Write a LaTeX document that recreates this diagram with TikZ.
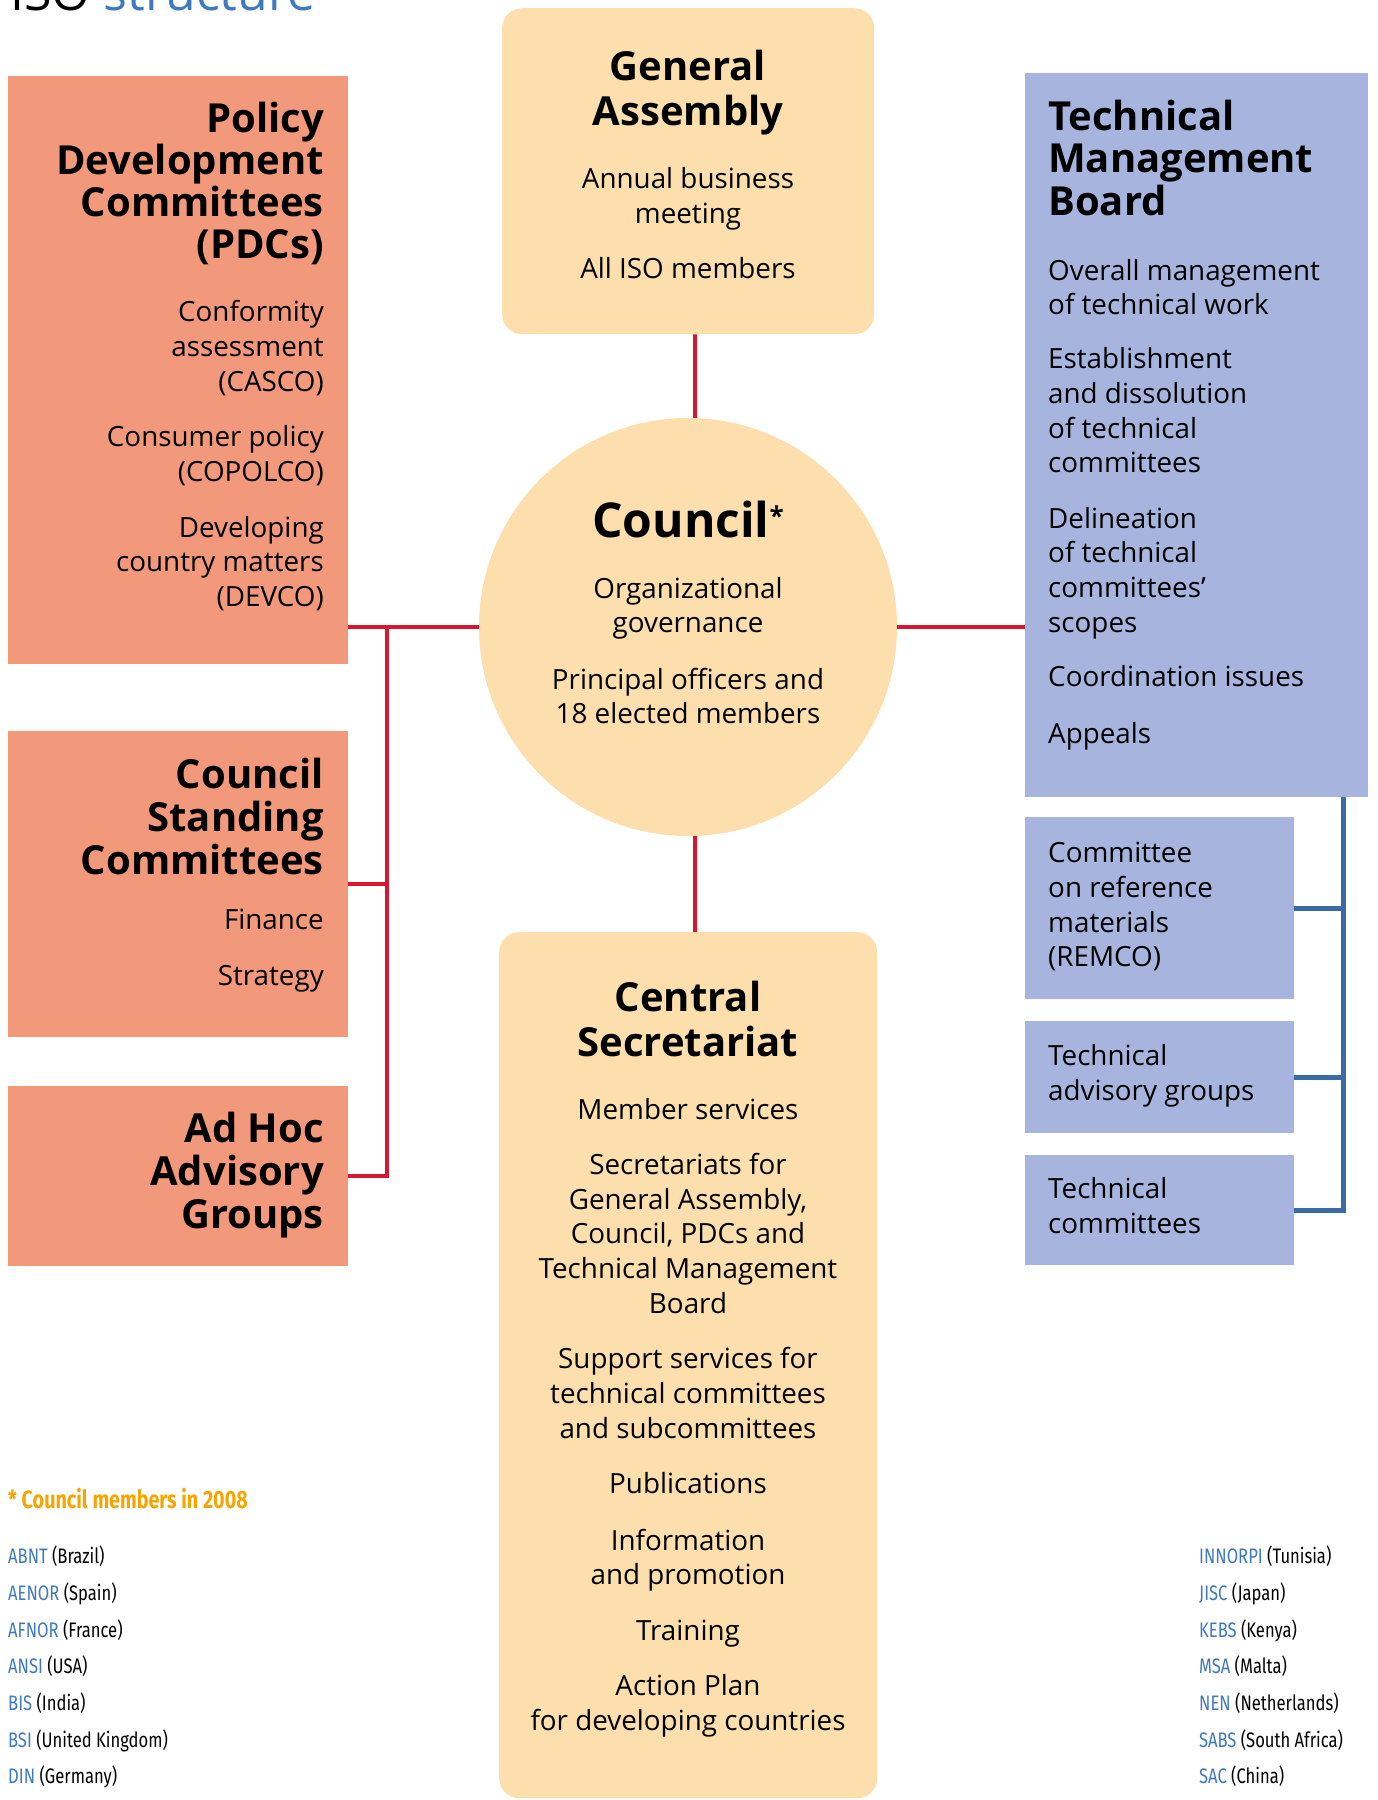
\documentclass[tikz,border=0pt]{standalone}
\usepackage{fontspec}
\setmainfont{Open Sans}
\newfontfamily\condfont[FakeStretch=0.79]{Fira Sans}
\usepackage{tikz}
\usetikzlibrary{calc}

\definecolor{salmon}{HTML}{F2987B}
\definecolor{peach}{HTML}{FDDEAD}
\definecolor{lavender}{HTML}{A7B5DE}
\definecolor{isored}{HTML}{D7172F}
\definecolor{isoblue}{HTML}{3A6BA6}
\definecolor{namecol}{HTML}{3E79C2}
\definecolor{notecol}{HTML}{F6A400}

\begin{document}
\begin{tikzpicture}[
    x=1pt, y=-1pt,
    salmonbox/.style={fill=salmon, anchor=north west, inner sep=0pt, minimum width=340pt},
    peachbox/.style={fill=peach, anchor=north west, inner sep=0pt, rounded corners=20pt},
    bluebox/.style={fill=lavender, anchor=north west, inner sep=0pt},
    ttl/.style={font=\fontsize{40}{44}\selectfont\bfseries, inner sep=0pt},
    txt/.style={font=\fontsize{27.8}{35}\selectfont, inner sep=0pt},
    lst/.style={font=\condfont\fontsize{21}{21}\selectfont, inner sep=0pt, anchor=base west},
    redline/.style={draw=isored, line width=4pt},
    blueline/.style={draw=isoblue, line width=5pt}
]
\useasboundingbox (0,0) rectangle (1378,1800);
\clip (0,0) rectangle (1378,1800);

% heading, cut at the top
\node[anchor=base west, inner sep=0pt, font=\fontsize{50}{50}\selectfont] (heading) at (10,10) {ISO \textcolor{namecol}{structure}};

% boxes
\node[salmonbox, minimum height=588pt] (pdc) at (8,76) {};
\node[salmonbox, minimum height=306pt] (csc) at (8,731) {};
\node[salmonbox, minimum height=180pt] (adhoc) at (8,1086) {};
\node[peachbox, minimum width=372pt, minimum height=326pt] (ga) at (502,8) {};
\node[peachbox, minimum width=378pt, minimum height=866pt] (cs) at (499,932) {};
\node[circle, fill=peach, inner sep=0pt, minimum size=418pt] (council) at (688,627) {};
\node[bluebox, minimum width=343pt, minimum height=724pt] (tmb) at (1025,73) {};
\node[bluebox, minimum width=269pt, minimum height=182pt] (remco) at (1025,817) {};
\node[bluebox, minimum width=269pt, minimum height=112pt] (tag) at (1025,1021) {};
\node[bluebox, minimum width=269pt, minimum height=110pt] (tc) at (1025,1155) {};

% connectors
\draw[redline] ([xshift=7pt]ga.south) -- ([xshift=7pt]council.north);
\draw[redline] ([xshift=7pt]council.south) -- ([xshift=7pt]cs.north);
\draw[redline] (pdc.east |- council.west) -- (council.west);
\draw[redline] (council.east) -- (council.east -| tmb.west);
\coordinate (lbus) at ($(pdc.east |- council.west)+(39,0)$);
\draw[redline] (csc.east) -- (csc.east -| lbus);
\draw[redline] (lbus) |- (adhoc.east);
\coordinate (rbus) at ([xshift=-25pt]tmb.south east);
\draw[blueline] (remco.east) -- (remco.east -| rbus);
\draw[blueline] (tag.east) -- (tag.east -| rbus);
\draw[blueline] (rbus) |- (tc.east);

% Policy Development Committees
\node[ttl, anchor=base east] (pdc1) at (324,132) {Policy};
\node[ttl, anchor=base east] (pdc2) at (324,174) {Development};
\node[ttl, anchor=base east] (pdc3) at (324,216) {Committees};
\node[ttl, anchor=base east] (pdc4) at (324,258) {(PDCs)};
\node[txt, anchor=base east] (pdc5) at (324,321) {Conformity};
\node[txt, anchor=base east] (pdc6) at (324,356) {assessment};
\node[txt, anchor=base east] (pdc7) at (324,391) {(CASCO)};
\node[txt, anchor=base east] (pdc8) at (324,446) {Consumer policy};
\node[txt, anchor=base east] (pdc9) at (324,481) {(COPOLCO)};
\node[txt, anchor=base east] (pdc10) at (324,537) {Developing};
\node[txt, anchor=base east] (pdc11) at (324,571) {country matters};
\node[txt, anchor=base east] (pdc12) at (324,606) {(DEVCO)};

% Council Standing Committees
\node[ttl, anchor=base east] (csc1) at (324,788) {Council};
\node[ttl, anchor=base east] (csc2) at (324,831) {Standing};
\node[ttl, anchor=base east] (csc3) at (324,874) {Committees};
\node[txt, anchor=base east] (csc4) at (324,929) {Finance};
\node[txt, anchor=base east] (csc5) at (324,985) {Strategy};

% Ad Hoc Advisory Groups
\node[ttl, anchor=base east] (ah1) at (324,1142) {Ad Hoc};
\node[ttl, anchor=base east] (ah2) at (324,1185) {Advisory};
\node[ttl, anchor=base east] (ah3) at (324,1228) {Groups};

% General Assembly
\node[ttl, anchor=base] (ga1) at (688,80) {General};
\node[ttl, anchor=base] (ga2) at (688,125) {Assembly};
\node[txt, anchor=base] (ga3) at (688,188) {Annual business};
\node[txt, anchor=base] (ga4) at (688,223) {meeting};
\node[txt, anchor=base] (ga5) at (688,278) {All ISO members};

% Council
\node[ttl, anchor=base, font=\fontsize{48}{48}\selectfont\bfseries] (co1) at (688,537) {Council\raisebox{12pt}{\fontsize{26}{26}\selectfont *}};
\node[txt, anchor=base] (co2) at (688,598) {Organizational};
\node[txt, anchor=base] (co3) at (688,632) {governance};
\node[txt, anchor=base] (co4) at (688,689) {Principal officers and};
\node[txt, anchor=base] (co5) at (688,723) {18 elected members};

% Central Secretariat
\node[ttl, anchor=base] (cs1) at (688,1011) {Central};
\node[ttl, anchor=base] (cs2) at (688,1056) {Secretariat};
\node[txt, anchor=base] (cs3) at (688,1119) {Member services};
\node[txt, anchor=base] (cs4) at (688,1174) {Secretariats for};
\node[txt, anchor=base] (cs5) at (688,1209) {General Assembly,};
\node[txt, anchor=base] (cs6) at (688,1243) {Council, PDCs and};
\node[txt, anchor=base] (cs7) at (688,1278) {Technical Management};
\node[txt, anchor=base] (cs8) at (688,1313) {Board};
\node[txt, anchor=base] (cs9) at (688,1368) {Support services for};
\node[txt, anchor=base] (cs10) at (688,1403) {technical committees};
\node[txt, anchor=base] (cs11) at (688,1438) {and subcommittees};
\node[txt, anchor=base] (cs12) at (688,1493) {Publications};
\node[txt, anchor=base] (cs13) at (688,1550) {Information};
\node[txt, anchor=base] (cs14) at (688,1584) {and promotion};
\node[txt, anchor=base] (cs15) at (688,1640) {Training};
\node[txt, anchor=base] (cs16) at (688,1695) {Action Plan};
\node[txt, anchor=base] (cs17) at (688,1730) {for developing countries};

% Technical Management Board
\node[ttl, anchor=base west] (tmb1) at (1048,130) {Technical};
\node[ttl, anchor=base west] (tmb2) at (1048,172) {Management};
\node[ttl, anchor=base west] (tmb3) at (1048,215) {Board};
\node[txt, anchor=base west] (tmb4) at (1048,280) {Overall management};
\node[txt, anchor=base west] (tmb5) at (1048,314) {of technical work};
\node[txt, anchor=base west] (tmb6) at (1048,368) {Establishment};
\node[txt, anchor=base west] (tmb7) at (1048,403) {and dissolution};
\node[txt, anchor=base west] (tmb8) at (1048,438) {of technical};
\node[txt, anchor=base west] (tmb9) at (1048,472) {committees};
\node[txt, anchor=base west] (tmb10) at (1048,528) {Delineation};
\node[txt, anchor=base west] (tmb11) at (1048,562) {of technical};
\node[txt, anchor=base west] (tmb12) at (1048,597) {committees'};
\node[txt, anchor=base west] (tmb13) at (1048,632) {scopes};
\node[txt, anchor=base west] (tmb14) at (1048,686) {Coordination issues};
\node[txt, anchor=base west] (tmb15) at (1048,743) {Appeals};

% TMB groups
\node[txt, anchor=base west] (rm1) at (1048,862) {Committee};
\node[txt, anchor=base west] (rm2) at (1048,897) {on reference};
\node[txt, anchor=base west] (rm3) at (1048,932) {materials};
\node[txt, anchor=base west] (rm4) at (1048,966) {(REMCO)};
\node[txt, anchor=base west] (tag1) at (1048,1065) {Technical};
\node[txt, anchor=base west] (tag2) at (1048,1100) {advisory groups};
\node[txt, anchor=base west] (tc1) at (1048,1198) {Technical};
\node[txt, anchor=base west] (tc2) at (1048,1233) {committees};

% Council members in 2008
\node[lst, font=\condfont\bfseries\fontsize{25}{25}\selectfont, text=notecol] (note) at (8,1508) {* Council members in 2008};
\node[lst] (m1) at (8,1563) {\textcolor{namecol}{ABNT} (Brazil)};
\node[lst] (m2) at (8,1600) {\textcolor{namecol}{AENOR} (Spain)};
\node[lst] (m3) at (8,1637) {\textcolor{namecol}{AFNOR} (France)};
\node[lst] (m4) at (8,1673) {\textcolor{namecol}{ANSI} (USA)};
\node[lst] (m5) at (8,1710) {\textcolor{namecol}{BIS} (India)};
\node[lst] (m6) at (8,1747) {\textcolor{namecol}{BSI} (United Kingdom)};
\node[lst] (m7) at (8,1783) {\textcolor{namecol}{DIN} (Germany)};
\node[lst] (m8) at (1199,1563) {\textcolor{namecol}{INNORPI} (Tunisia)};
\node[lst] (m9) at (1199,1600) {\textcolor{namecol}{JISC} (Japan)};
\node[lst] (m10) at (1199,1637) {\textcolor{namecol}{KEBS} (Kenya)};
\node[lst] (m11) at (1199,1673) {\textcolor{namecol}{MSA} (Malta)};
\node[lst] (m12) at (1199,1710) {\textcolor{namecol}{NEN} (Netherlands)};
\node[lst] (m13) at (1199,1747) {\textcolor{namecol}{SABS} (South Africa)};
\node[lst] (m14) at (1199,1783) {\textcolor{namecol}{SAC} (China)};
\end{tikzpicture}
\end{document}
